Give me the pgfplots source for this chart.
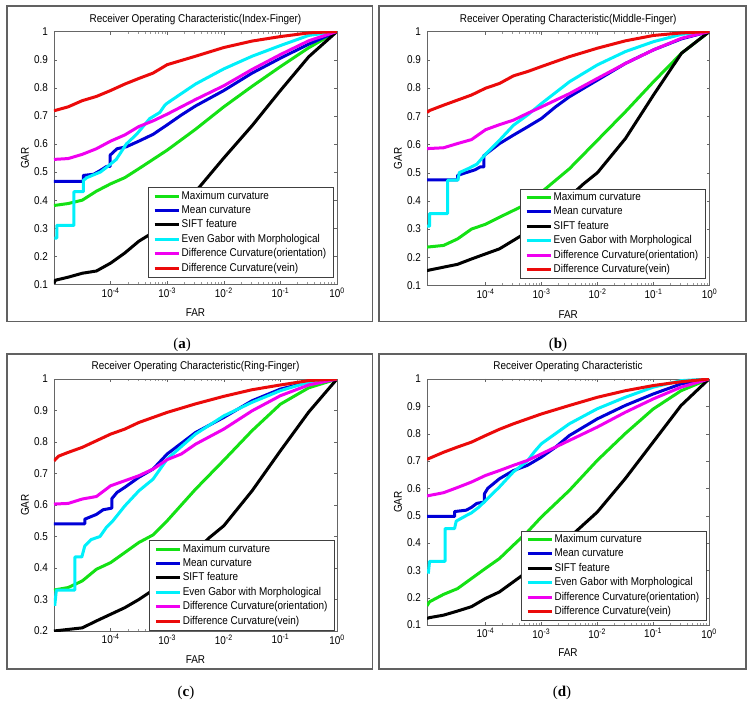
\documentclass[border=0pt]{standalone}
\usepackage{pgfplots}
\pgfplotsset{compat=1.18}
\usepackage{fontspec}
\setmainfont{Liberation Serif}
\newfontfamily\arial[FakeStretch=0.88]{Liberation Sans}
\definecolor{cgreen}{RGB}{20,225,20}
\definecolor{cblue}{RGB}{0,0,215}
\definecolor{ccyan}{RGB}{0,240,250}
\definecolor{cmag}{RGB}{240,0,240}
\definecolor{cred}{RGB}{235,10,10}
\newcommand{\tf}{\arial\fontsize{11.3}{13}\selectfont}
\pgfplotsset{
   legend image code/.code={\draw[#1, line width=3pt] (0pt,0pt) -- (24pt,0pt);},
   scale only axis, xmax=1, ymax=1,
   xtick={1e-4,1e-3,1e-2,1e-1,1},
   xticklabels={10\textsuperscript{-4},10\textsuperscript{-3},10\textsuperscript{-2},10\textsuperscript{-1},10\textsuperscript{0}},
   tick label style={font=\tf},
   yticklabel style={xshift=-2.5pt},
   axis line style={black!60},
   major tick style={black!60}, minor tick style={black!40},
   major tick length=3pt, minor tick length=2pt,
   tick align=inside,
   title style={font=\tf, at={(axis description cs:0.5,1.025)}, anchor=center},
   label style={font=\tf},
   xlabel style={at={(axis description cs:0.5,-0.113)}, anchor=center},
   ylabel style={at={(axis description cs:-0.1025,0.5)}, anchor=center},
   legend cell align=left,
   legend style={draw=black!75, fill=white, thin, inner xsep=5pt, inner ysep=1.5pt, row sep=0pt, font=\tf,
     nodes={inner sep=1.5pt, text height=8.8pt, text depth=2.6pt}},
   every axis plot/.append style={line width=3pt, line join=round},
}
\newcommand{\legs}{%
 \addlegendentry{Maximum curvature}
 \addlegendentry{Mean curvature}
 \addlegendentry{SIFT feature}
 \addlegendentry{Even Gabor with Morphological}
 \addlegendentry{Difference Curvature(orientation)}
 \addlegendentry{Difference Curvature(vein)}}
\begin{document}
\begin{tikzpicture}[x=1pt,y=1pt]
\useasboundingbox (0,0) rectangle (752,707);
% frames
\draw[black!62, line width=1.3pt] (7,701) rectangle (372.5,385.5);
\draw[black!62, line width=1.3pt] (379,701) rectangle (746,385.5);
\draw[black!62, line width=1.3pt] (7,353) rectangle (372.5,38);
\draw[black!62, line width=1.3pt] (379,353) rectangle (746,38);
\node[font=\fontsize{15}{17}\selectfont] at (182,362) {(\textbf{a})};
\node[font=\fontsize{15}{17}\selectfont] at (558,362) {(\textbf{b})};
\node[font=\fontsize{15}{17}\selectfont] at (186,14) {(\textbf{c})};
\node[font=\fontsize{15}{17}\selectfont] at (562,14) {(\textbf{d})};

% (a)
\begin{axis}[xmode=log, at={(54pt,422.5pt)}, anchor=south west, width=283pt, height=253pt, xmin=1e-5,
  ymin=0.1, ytick={0.1,0.2,0.3,0.4,0.5,0.6,0.7,0.8,0.9,1}, yticklabels={0.1,0.2,0.3,0.4,0.5,0.6,0.7,0.8,0.9,1},
  xlabel={FAR}, ylabel={GAR},
  title={Receiver Operating Characteristic(Index-Finger)},
  legend style={at={(0.986,0.03)}, anchor=south east}]
\addplot[cgreen] coordinates {(1e-5,0.381)(1.78e-5,0.388)(3.16e-5,0.40)(5.62e-5,0.432)(1e-4,0.458)(1.78e-4,0.48)(3.16e-4,0.512)(5.62e-4,0.545)(1e-3,0.578)(3.16e-3,0.652)(1e-2,0.732)(3.16e-2,0.805)(0.1,0.875)(0.316,0.942)(1,1)};
\addplot[cblue] coordinates {(1e-5,0.467)(3.3e-5,0.467)(3.3e-5,0.488)(5e-5,0.492)(6.5e-5,0.505)(8.5e-5,0.52)(9.8e-5,0.52)(9.8e-5,0.56)(1.3e-4,0.583)(1.9e-4,0.59)(3.16e-4,0.61)(5.62e-4,0.634)(1e-3,0.668)(1.78e-3,0.703)(3.16e-3,0.735)(1e-2,0.79)(3.16e-2,0.852)(0.1,0.905)(0.316,0.955)(1,1)};
\addplot[black] coordinates {(1e-5,0.103)(1.05e-5,0.115)(1.78e-5,0.126)(3.16e-5,0.14)(5.62e-5,0.148)(1e-4,0.176)(1.78e-4,0.212)(3.16e-4,0.254)(5.62e-4,0.285)(1e-3,0.33)(1.78e-3,0.38)(3.16e-3,0.43)(1e-2,0.55)(3.16e-2,0.665)(0.1,0.79)(0.316,0.91)(1,1)};
\addplot[ccyan] coordinates {(1.02e-5,0.265)(1.12e-5,0.265)(1.12e-5,0.31)(2.24e-5,0.31)(2.24e-5,0.43)(3.3e-5,0.43)(3.3e-5,0.47)(3.8e-5,0.48)(6.6e-5,0.5)(8.9e-5,0.52)(1.26e-4,0.545)(1.9e-4,0.6)(2.9e-4,0.635)(4.9e-4,0.69)(7.4e-4,0.712)(9.1e-4,0.738)(1e-3,0.745)(1.9e-3,0.783)(3.16e-3,0.813)(1e-2,0.867)(3.16e-2,0.912)(0.1,0.95)(0.316,0.986)(1,1)};
\addplot[cmag] coordinates {(1e-5,0.545)(1.78e-5,0.548)(3.16e-5,0.563)(5.62e-5,0.583)(1e-4,0.61)(1.78e-4,0.632)(3.16e-4,0.662)(5.62e-4,0.682)(1e-3,0.706)(3.16e-3,0.758)(1e-2,0.807)(3.16e-2,0.865)(0.1,0.918)(0.316,0.967)(1,1)};
\addplot[cred] coordinates {(1e-5,0.718)(1.78e-5,0.732)(3.16e-5,0.754)(5.62e-5,0.769)(1e-4,0.79)(1.78e-4,0.813)(3.16e-4,0.833)(5.62e-4,0.852)(1e-3,0.882)(3.16e-3,0.912)(1e-2,0.943)(3.16e-2,0.966)(0.1,0.982)(0.316,0.995)(1,1)};
\legs
\end{axis}

% (b)
\begin{axis}[xmode=log, at={(427pt,421.5pt)}, anchor=south west, width=282.5pt, height=254pt, xmin=9e-6,
  ymin=0.1, ytick={0.1,0.2,0.3,0.4,0.5,0.6,0.7,0.8,0.9,1}, yticklabels={0.1,0.2,0.3,0.4,0.5,0.6,0.7,0.8,0.9,1},
  xlabel={FAR}, ylabel={GAR},
  title={Receiver Operating Characteristic(Middle-Finger)},
  legend style={at={(0.984,0.028)}, anchor=south east}]
\addplot[cgreen] coordinates {(9e-6,0.236)(1.78e-5,0.242)(3.16e-5,0.265)(5.62e-5,0.30)(1e-4,0.317)(1.78e-4,0.342)(3.16e-4,0.366)(5.62e-4,0.39)(1e-3,0.431)(3.16e-3,0.514)(1e-2,0.615)(3.16e-2,0.716)(0.1,0.822)(0.316,0.923)(1,1)};
\addplot[cblue] coordinates {(9e-6,0.474)(3.16e-5,0.474)(3.16e-5,0.49)(4.5e-5,0.5)(6.5e-5,0.51)(8e-5,0.52)(9.3e-5,0.52)(9.3e-5,0.56)(1.78e-4,0.603)(3.16e-4,0.633)(5.62e-4,0.662)(1e-3,0.692)(1.78e-3,0.733)(3.16e-3,0.769)(1e-2,0.828)(3.16e-2,0.887)(0.1,0.935)(0.316,0.974)(1,1)};
\addplot[black] coordinates {(9e-6,0.153)(1.78e-5,0.165)(3.16e-5,0.175)(5.62e-5,0.194)(1e-4,0.212)(1.78e-4,0.23)(3.16e-4,0.26)(5.62e-4,0.29)(1e-3,0.33)(1.78e-3,0.37)(3.16e-3,0.415)(5.62e-3,0.46)(1e-2,0.5)(3.16e-2,0.621)(0.1,0.775)(0.316,0.923)(1,1)};
\addplot[ccyan] coordinates {(9e-6,0.31)(1e-5,0.31)(1e-5,0.355)(2.1e-5,0.355)(2.1e-5,0.473)(3.2e-5,0.473)(3.4e-5,0.5)(5e-5,0.515)(7e-5,0.53)(1e-4,0.565)(1.78e-4,0.615)(3.16e-4,0.668)(5.62e-4,0.704)(1e-3,0.745)(3.16e-3,0.822)(1e-2,0.882)(3.16e-2,0.929)(0.1,0.964)(0.316,0.99)(1,1)};
\addplot[cmag] coordinates {(9e-6,0.585)(1.78e-5,0.588)(3.16e-5,0.603)(5.62e-5,0.617)(1e-4,0.652)(1.78e-4,0.67)(3.16e-4,0.686)(5.62e-4,0.71)(1e-3,0.733)(3.16e-3,0.78)(1e-2,0.834)(3.16e-2,0.887)(0.1,0.935)(0.316,0.976)(1,1)};
\addplot[cred] coordinates {(9e-6,0.713)(1e-5,0.72)(1.78e-5,0.739)(3.16e-5,0.757)(5.62e-5,0.775)(1e-4,0.799)(1.78e-4,0.816)(3.16e-4,0.843)(5.62e-4,0.858)(1e-3,0.876)(3.16e-3,0.911)(1e-2,0.941)(3.16e-2,0.967)(0.1,0.986)(0.316,0.995)(1,1)};
\legs
\end{axis}

% (c)
\begin{axis}[xmode=log, at={(54pt,76pt)}, anchor=south west, width=283pt, height=252pt, xmin=1e-5,
  ymin=0.2, ytick={0.2,0.3,0.4,0.5,0.6,0.7,0.8,0.9,1}, yticklabels={0.2,0.3,0.4,0.5,0.6,0.7,0.8,0.9,1},
  xlabel={FAR}, ylabel={GAR},
  title={Receiver Operating Characteristic(Ring-Finger)},
  legend style={at={(0.99,0.004)}, anchor=south east}]
\addplot[cgreen] coordinates {(1e-5,0.33)(1.78e-5,0.338)(3.16e-5,0.359)(5.62e-5,0.396)(1e-4,0.417)(1.78e-4,0.449)(3.16e-4,0.481)(5.62e-4,0.505)(1e-3,0.55)(3.16e-3,0.65)(1e-2,0.742)(3.16e-2,0.836)(0.1,0.92)(0.316,0.972)(1,1)};
\addplot[cblue] coordinates {(1e-5,0.54)(3.5e-5,0.54)(3.5e-5,0.555)(5.6e-5,0.57)(7.4e-5,0.585)(1.05e-4,0.59)(1.05e-4,0.62)(1.3e-4,0.64)(1.78e-4,0.656)(3.16e-4,0.688)(5.62e-4,0.714)(1e-3,0.762)(3.16e-3,0.83)(1e-2,0.878)(3.16e-2,0.931)(0.1,0.968)(0.316,0.99)(1,1)};
\addplot[black] coordinates {(1e-5,0.2)(1.78e-5,0.205)(3.16e-5,0.21)(5.62e-5,0.232)(1e-4,0.253)(1.78e-4,0.274)(3.16e-4,0.30)(5.62e-4,0.33)(1e-3,0.365)(1.78e-3,0.41)(3.16e-3,0.455)(5.62e-3,0.497)(1e-2,0.534)(3.16e-2,0.645)(0.1,0.772)(0.316,0.895)(1,1)};
\addplot[ccyan] coordinates {(1.03e-5,0.28)(1.1e-5,0.33)(2.34e-5,0.33)(2.34e-5,0.435)(3.1e-5,0.435)(3.5e-5,0.47)(4.5e-5,0.49)(6.5e-5,0.5)(8.5e-5,0.53)(1.1e-4,0.55)(1.78e-4,0.597)(3.16e-4,0.645)(5.62e-4,0.682)(1e-3,0.746)(3.16e-3,0.825)(1e-2,0.883)(3.16e-2,0.926)(0.1,0.963)(0.316,0.99)(1,1)};
\addplot[cmag] coordinates {(1e-5,0.603)(1.78e-5,0.605)(3.16e-5,0.619)(5.62e-5,0.627)(1e-4,0.661)(1.78e-4,0.677)(3.16e-4,0.693)(5.62e-4,0.714)(1e-3,0.744)(1.78e-3,0.762)(3.16e-3,0.793)(1e-2,0.841)(3.16e-2,0.899)(0.1,0.947)(0.316,0.981)(1,1)};
\addplot[cred] coordinates {(1e-5,0.74)(1.2e-5,0.755)(1.78e-5,0.767)(3.16e-5,0.783)(5.62e-5,0.804)(1e-4,0.825)(1.78e-4,0.841)(3.16e-4,0.862)(5.62e-4,0.878)(1e-3,0.894)(3.16e-3,0.921)(1e-2,0.945)(3.16e-2,0.966)(0.1,0.981)(0.316,0.995)(1,1)};
\legs
\end{axis}

% (d)
\begin{axis}[xmode=log, at={(427pt,82pt)}, anchor=south west, width=282pt, height=246pt, xmin=9e-6,
  ymin=0.1, ytick={0.1,0.2,0.3,0.4,0.5,0.6,0.7,0.8,0.9,1}, yticklabels={0.1,0.2,0.3,0.4,0.5,0.6,0.7,0.8,0.9,1},
  xlabel={FAR}, ylabel={GAR},
  title={Receiver Operating Characteristic},
  legend style={at={(0.989,0.019)}, anchor=south east}]
\addplot[cgreen] coordinates {(9e-6,0.17)(1e-5,0.185)(1.78e-5,0.212)(3.16e-5,0.233)(5.62e-5,0.27)(1e-4,0.307)(1.78e-4,0.343)(3.16e-4,0.392)(5.62e-4,0.44)(1e-3,0.495)(3.16e-3,0.592)(1e-2,0.702)(3.16e-2,0.80)(0.1,0.89)(0.316,0.957)(1,1)};
\addplot[cblue] coordinates {(9e-6,0.497)(2.8e-5,0.497)(2.8e-5,0.515)(4.5e-5,0.52)(5.6e-5,0.53)(7e-5,0.545)(9.6e-5,0.55)(9.6e-5,0.58)(1.1e-4,0.60)(1.78e-4,0.635)(3.16e-4,0.665)(5.62e-4,0.684)(1e-3,0.714)(1.78e-3,0.75)(3.16e-3,0.793)(1e-2,0.854)(3.16e-2,0.903)(0.1,0.945)(0.316,0.982)(1,1)};
\addplot[black] coordinates {(9e-6,0.124)(1e-5,0.127)(1.78e-5,0.136)(3.16e-5,0.151)(5.62e-5,0.167)(1e-4,0.197)(1.78e-4,0.221)(3.16e-4,0.258)(5.62e-4,0.295)(1e-3,0.335)(1.78e-3,0.375)(3.16e-3,0.42)(1e-2,0.513)(3.16e-2,0.635)(0.1,0.769)(0.316,0.903)(1,1)};
\addplot[ccyan] coordinates {(9.5e-6,0.288)(1e-5,0.333)(1.9e-5,0.333)(1.9e-5,0.453)(2.8e-5,0.453)(3e-5,0.48)(4.5e-5,0.5)(5.6e-5,0.51)(7.5e-5,0.53)(9.5e-5,0.55)(1.78e-4,0.605)(3.16e-4,0.66)(5.62e-4,0.70)(7.6e-4,0.735)(1e-3,0.763)(3.16e-3,0.836)(1e-2,0.891)(3.16e-2,0.933)(0.1,0.97)(0.316,0.994)(1,1)};
\addplot[cmag] coordinates {(9e-6,0.572)(1e-5,0.574)(1.78e-5,0.584)(3.16e-5,0.603)(5.62e-5,0.623)(1e-4,0.647)(1.78e-4,0.665)(3.16e-4,0.684)(5.62e-4,0.702)(1e-3,0.726)(3.16e-3,0.775)(1e-2,0.824)(3.16e-2,0.878)(0.1,0.927)(0.316,0.97)(1,1)};
\addplot[cred] coordinates {(9e-6,0.706)(1e-5,0.71)(1.78e-5,0.732)(3.16e-5,0.751)(5.62e-5,0.769)(1e-4,0.793)(1.78e-4,0.816)(3.16e-4,0.836)(5.62e-4,0.854)(1e-3,0.872)(3.16e-3,0.903)(1e-2,0.933)(3.16e-2,0.957)(0.1,0.976)(0.316,0.99)(1,1)};
\legs
\end{axis}
\end{tikzpicture}
\end{document}
